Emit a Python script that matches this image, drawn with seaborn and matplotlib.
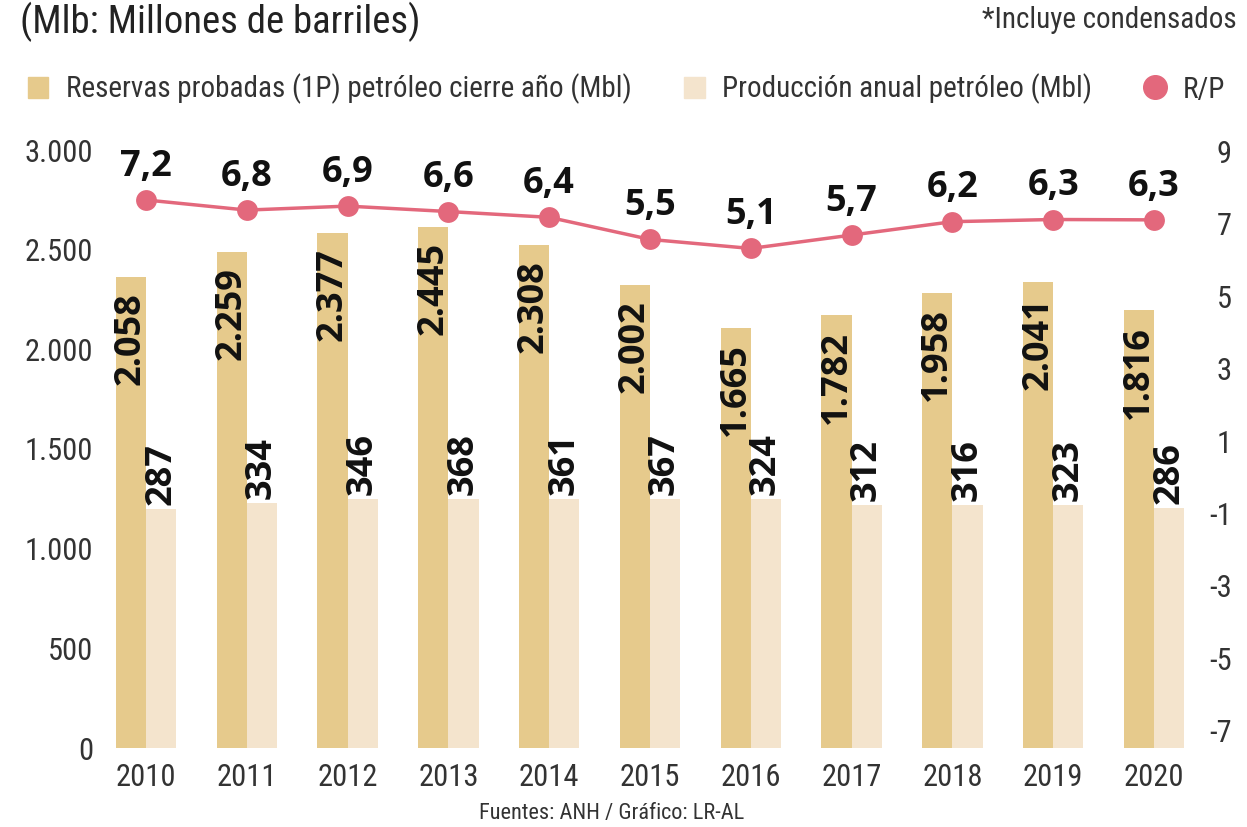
import numpy as np
import pandas as pd
import seaborn as sns
import matplotlib.pyplot as plt
from matplotlib import font_manager
from matplotlib.lines import Line2D
from matplotlib.patches import Patch
from matplotlib.ticker import FuncFormatter

# datos del grafico (las alturas dibujadas se leen de los ejes, las etiquetas son los valores publicados)
years = ["2010", "2011", "2012", "2013", "2014", "2015", "2016", "2017", "2018", "2019", "2020"]
reservas_lbl = [2058, 2259, 2377, 2445, 2308, 2002, 1665, 1782, 1958, 2041, 1816]
produccion_lbl = [287, 334, 346, 368, 361, 367, 324, 312, 316, 323, 286]
rp_lbl = [7.2, 6.8, 6.9, 6.6, 6.4, 5.5, 5.1, 5.7, 6.2, 6.3, 6.3]
reservas_alto = [2365, 2490, 2583, 2616, 2524, 2323, 2106, 2170, 2283, 2338, 2195]
produccion_alto = [1199, 1229, 1248, 1248, 1248, 1248, 1248, 1219, 1219, 1219, 1203]
rp_alto = [7.66, 7.38, 7.49, 7.34, 7.18, 6.57, 6.32, 6.69, 7.06, 7.12, 7.11]
left_ticks = [0, 500, 1000, 1500, 2000, 2500, 3000]
right_ticks = [-7, -5, -3, -1, 1, 3, 5, 7, 9]

gold = "#e6ca8c"
light = "#f4e4cd"
pink = "#e3687c"
txt = "#333333"

sns.set_theme(style="white")
installed = {f.name for f in font_manager.fontManager.ttflist}
narrow = next((f for f in ["Liberation Sans Narrow", "Roboto Condensed", "Open Sans Condensed"]
               if f in installed), "DejaVu Sans")
bold_font = "Open Sans" if "Open Sans" in installed else "DejaVu Sans"
plt.rcParams["font.family"] = [narrow, "DejaVu Sans"]

df = pd.DataFrame({
    "year": years * 2,
    "valor": reservas_alto + produccion_alto,
    "serie": ["reservas"] * len(years) + ["produccion"] * len(years),
})

fig = plt.figure(figsize=(12.47, 8.27), dpi=100)
ax = fig.add_axes([100 / 1247, 79 / 827, 1090 / 1247, 598 / 827])
sns.barplot(data=df, x="year", y="valor", hue="serie", order=years,
            hue_order=["reservas", "produccion"], palette=[gold, light],
            width=0.6, gap=0, saturation=1, errorbar=None, legend=False,
            linewidth=0, edgecolor="none", ax=ax)

ax2 = ax.twinx()
sns.lineplot(x=np.arange(len(years)), y=rp_alto, ax=ax2, color=pink, linewidth=2.5,
             marker="o", markersize=15, markeredgewidth=0, markerfacecolor=pink)

ax.set_ylim(0, 3000)
ax.set_yticks(left_ticks)
ax.yaxis.set_major_formatter(FuncFormatter(lambda v, p: f"{int(v):,}".replace(",", ".")))
ax2.set_ylim(-7.48, 9.04)
ax2.set_yticks(right_ticks)
ax2.set_yticklabels([str(t) for t in right_ticks])
ax.set_xlim(-0.456, 10.357)

for a in (ax, ax2):
    a.set_xlabel("")
    a.set_ylabel("")
    a.grid(False)
    for s in a.spines.values():
        s.set_visible(False)
ax.tick_params(axis="y", length=0, pad=5, labelsize=22, labelcolor=txt)
ax.tick_params(axis="x", length=0, pad=11, labelsize=22, labelcolor=txt)
ax2.tick_params(axis="y", length=0, pad=30, labelsize=22, labelcolor=txt)
for lbl in ax2.get_yticklabels():
    lbl.set_horizontalalignment("right")

# etiquetas de valores
for i in range(len(years)):
    ax.annotate(f"{reservas_lbl[i]:,}".replace(",", "."), xy=(i - 0.15, reservas_alto[i]),
                xytext=(0, -11), textcoords="offset points", rotation=90, ha="center", va="top",
                fontsize=26, fontweight="bold", family=bold_font, color="#111111")
    ax.annotate(str(produccion_lbl[i]), xy=(i + 0.15, produccion_alto[i]),
                xytext=(0, 3), textcoords="offset points", rotation=90, ha="center", va="bottom",
                fontsize=26, fontweight="bold", family=bold_font, color="#111111")
    ax2.annotate(f"{rp_lbl[i]:.1f}".replace(".", ","), xy=(i, rp_alto[i]),
                 xytext=(0, 11), textcoords="offset points", ha="center", va="bottom",
                 fontsize=26, fontweight="bold", family=bold_font, color="#111111")

fig.text(20 / 1247, 1 - 22 / 827, "(Mlb: Millones de barriles)", fontsize=28, color="#222222",
         va="center", ha="left")
fig.text(1237 / 1247, 1 - 20 / 827, "*Incluye condensados", fontsize=21, color=txt,
         va="center", ha="right")
fig.text(612 / 1247, 1 - 803 / 827, "Fuentes: ANH / Gráfico: LR-AL", fontsize=16, color=txt,
         va="top", ha="center")

handles = [Patch(color=gold), Patch(color=light),
           Line2D([], [], marker="o", linestyle="", markersize=17, color=pink)]
labels = ["Reservas probadas (1P) petróleo cierre año (Mbl)",
          "Producción anual petróleo (Mbl)", "R/P"]
leg = fig.legend(handles, labels, ncol=3, loc="center left", bbox_to_anchor=(28 / 1247, 1 - 89 / 827),
                 frameon=False, fontsize=21, handlelength=0.7, handleheight=0.7,
                 handletextpad=0.6, columnspacing=1.8, borderpad=0, borderaxespad=0)
for t in leg.get_texts():
    t.set_color(txt)

fig.savefig("out.png", dpi=100, facecolor="white")
